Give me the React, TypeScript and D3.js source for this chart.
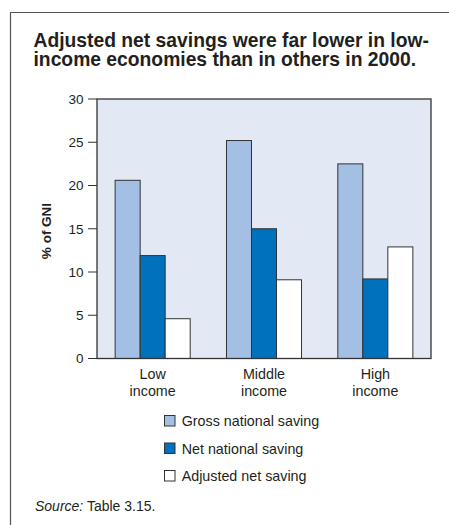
import React from "react";
import * as d3 from "d3";

// Savings as % of GNI, 2000, by income group
const categories = ["Low income", "Middle income", "High income"];
const categoryLines = [["Low", "income"], ["Middle", "income"], ["High", "income"]];
const seriesNames = ["Gross national saving", "Net national saving", "Adjusted net saving"];
const grossSaving = [20.6, 25.2, 22.5];
const netSaving = [11.9, 15.0, 9.2];
const adjustedSaving = [4.6, 9.1, 12.9];
const yTicks = [0, 5, 10, 15, 20, 25, 30];

const titleLines = [
  "Adjusted net savings were far lower in low-",
  "income economies than in others in 2000.",
];

const seriesColors = ["#a3bfe3", "#0071bc", "#ffffff"];
const seriesValues = [grossSaving, netSaving, adjustedSaving];

const W = 449;
const H = 525;
const plot = { left: 97, right: 431, top: 99, bottom: 358.5 };
const font = "'Liberation Sans', Arial, Helvetica, sans-serif";
const ink = "#231f20";
const edge = "#333333";

export default function App() {
  const x0 = d3
    .scaleBand<string>()
    .domain(categories)
    .range([plot.left, plot.right])
    .paddingInner(0.326)
    .paddingOuter(0.163);
  const x1 = d3
    .scaleBand<string>()
    .domain(seriesNames)
    .range([0, x0.bandwidth()]);
  const y = d3.scaleLinear().domain([0, 30]).range([plot.bottom, plot.top]);

  return (
    <svg
      width={W}
      height={H}
      style={{ position: "absolute", left: 0, top: 0, background: "#fff" }}
      fontFamily={font}
    >
      {/* frame lines */}
      <line x1={10} y1={12.5} x2={W} y2={12.5} stroke="#555" strokeWidth={1.2} />
      <line x1={10.5} y1={12} x2={10.5} y2={H} stroke="#555" strokeWidth={1.2} />

      {/* title */}
      {titleLines.map((t, i) => (
        <text
          key={t}
          x={33.5}
          y={47 + i * 19.3}
          fontSize={19.3}
          fontWeight="bold"
          fill={ink}
        >
          {t}
        </text>
      ))}

      {/* plot background */}
      <rect
        x={plot.left}
        y={plot.top}
        width={plot.right - plot.left}
        height={plot.bottom - plot.top}
        fill="#e2e9f5"
      />

      {/* bars */}
      {categories.map((c, ci) =>
        seriesNames.map((s, si) => {
          const v = seriesValues[si][ci];
          return (
            <rect
              key={c + s}
              x={(x0(c) ?? 0) + (x1(s) ?? 0)}
              y={y(v)}
              width={x1.bandwidth()}
              height={y(0) - y(v)}
              fill={seriesColors[si]}
              stroke={edge}
              strokeWidth={1}
            />
          );
        })
      )}

      {/* plot border */}
      <rect
        x={plot.left}
        y={plot.top}
        width={plot.right - plot.left}
        height={plot.bottom - plot.top}
        fill="none"
        stroke={edge}
        strokeWidth={1.3}
      />

      {/* y axis ticks */}
      {yTicks.map((t) => (
        <g key={t}>
          <line x1={plot.left - 9} x2={plot.left} y1={y(t)} y2={y(t)} stroke={edge} strokeWidth={1} />
          <text
            x={plot.left - 13.5}
            y={y(t)}
            dy="0.36em"
            textAnchor="end"
            fontSize={13.5}
            fill={ink}
          >
            {t}
          </text>
        </g>
      ))}

      {/* y axis title */}
      <text
        transform={`translate(51, 231) rotate(-90)`}
        textAnchor="middle"
        fontSize={13.5}
        fontWeight="bold"
        fill={ink}
      >
        % of GNI
      </text>

      {/* category labels */}
      {categories.map((c, ci) => (
        <text
          key={c}
          x={(x0(c) ?? 0) + x0.bandwidth() / 2}
          y={379}
          textAnchor="middle"
          fontSize={14.3}
          fill={ink}
        >
          {categoryLines[ci].map((l, li) => (
            <tspan key={l} x={(x0(c) ?? 0) + x0.bandwidth() / 2} dy={li === 0 ? 0 : 16.5}>
              {l}
            </tspan>
          ))}
        </text>
      ))}

      {/* legend */}
      {seriesNames.map((s, si) => (
        <g key={s} transform={`translate(164, ${415 + si * 27.5})`}>
          <rect x={0.5} y={0.5} width={10.5} height={10.5} fill={seriesColors[si]} stroke={edge} strokeWidth={1} />
          <text x={17.7} y={11} fontSize={14.3} fill={ink}>
            {s}
          </text>
        </g>
      ))}

      {/* source note */}
      <text x={35} y={511} fontSize={14} fill={ink}>
        <tspan fontStyle="italic">Source:</tspan> Table 3.15.
      </text>
    </svg>
  );
}
